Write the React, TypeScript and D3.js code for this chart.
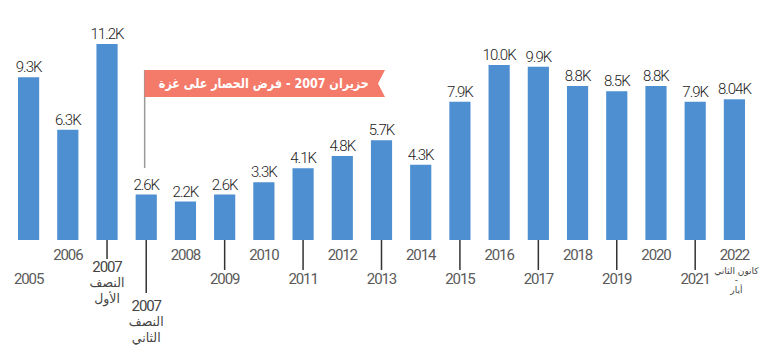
import React from "react";
import * as d3 from "d3";

const categories = ["2005","2006","2007a","2007b","2008","2009","2010","2011","2012","2013","2014","2015","2016","2017","2018","2019","2020","2021","2022"];
const values = [9.3, 6.3, 11.2, 2.6, 2.2, 2.6, 3.3, 4.1, 4.8, 5.7, 4.3, 7.9, 10.0, 9.9, 8.8, 8.5, 8.8, 7.9, 8.04];
const valueLabels = ["9.3K","6.3K","11.2K","2.6K","2.2K","2.6K","3.3K","4.1K","4.8K","5.7K","4.3K","7.9K","10.0K","9.9K","8.8K","8.5K","8.8K","7.9K","8.04K"];
const yearLabels = ["2005","2006","2007","2007","2008","2009","2010","2011","2012","2013","2014","2015","2016","2017","2018","2019","2020","2021","2022"];
const subLabels: string[][] = [[],[],["النصف","الأول"],["النصف","الثاني"],[],[],[],[],[],[],[],[],[],[],[],[],[],[],["كانون الثاني","-","أيار"]];
const annotationText = "حزيران 2007 - فرض الحصار على غزة";
const annotationCategory = "2007b";

export default function App() {
  const W = 767, H = 360;
  const base = 240;
  const x = d3.scaleBand<string>().domain(categories).range([9, 754]).paddingInner(0.46).paddingOuter(0.23);
  const y = d3.scaleLinear().domain([0, 12]).range([base, base - 210]);
  const bw = x.bandwidth();

  const layout = (i: number) => {
    if (i === 0) return { tick: 0, label: 279 };
    if (i === 1) return { tick: 0, label: 255 };
    if (i === 2) return { tick: 259, label: 267 };
    if (i === 3) return { tick: 293, label: 306 };
    if (i % 2 === 0) return { tick: 0, label: 255 };
    return { tick: 270, label: 279 };
  };

  const ax = (x(annotationCategory) ?? 0) + 9;
  const fx0 = ax, fx1 = 385, fy0 = 70, fy1 = 97;
  const flagPath = `M${fx0},${fy0}L${fx1},${fy0}L${fx1 - 7},${(fy0 + fy1) / 2}L${fx1},${fy1}L${fx0},${fy1}Z`;

  return (
    <svg width={W} height={H} style={{ position: "absolute", left: 0, top: 0 }}>
      <rect width={W} height={H} fill="#fff" />
      {categories.map((c, i) => {
        const cx = (x(c) ?? 0) + bw / 2;
        const L = layout(i);
        const last = i === categories.length - 1;
        return (
          <g key={c}>
            <rect x={x(c)} y={y(values[i])} width={bw} height={base - y(values[i])} fill="#4d8fd0" />
            <text x={cx} y={y(values[i]) - 5} textAnchor="middle" fontFamily="Roboto" fontSize={15} fontWeight={300} letterSpacing={-1} fill="#222">{valueLabels[i]}</text>
            {L.tick > 0 && <line x1={cx} x2={cx} y1={base} y2={L.tick} stroke="#333" strokeWidth={1.5} />}
            <text x={cx} y={L.label} dy="0.35em" textAnchor="middle" fontFamily="Roboto" fontSize={15} letterSpacing={-1.1} fill={i === 2 || i === 3 ? "#444" : "#5a5a5a"}>{yearLabels[i]}</text>
            {subLabels[i].map((s, j) => {
              const yy = last ? [271, 280, 290][j] : L.label + 16 * (j + 1);
              return (
                <text key={j} x={last ? cx + 2 : cx} y={yy} dy="0.35em" textAnchor="middle" fontFamily="'DejaVu Sans', 'Noto Sans'" fontSize={last ? 9 : 12.5} fill="#444" direction="rtl">{s}</text>
              );
            })}
          </g>
        );
      })}
      <line x1={ax} x2={ax} y1={fy0} y2={168} stroke="#999" strokeWidth={1.5} />
      <path d={flagPath} fill="#f47a6a" />
      <text x={(fx0 + fx1) / 2 - 1} y={(fy0 + fy1) / 2} dy="0.35em" textAnchor="middle" fontFamily="'DejaVu Sans'" fontWeight="bold" fontSize={13.5} fill="#fff" direction="rtl" textLength={210} lengthAdjust="spacingAndGlyphs">{annotationText}</text>
    </svg>
  );
}
